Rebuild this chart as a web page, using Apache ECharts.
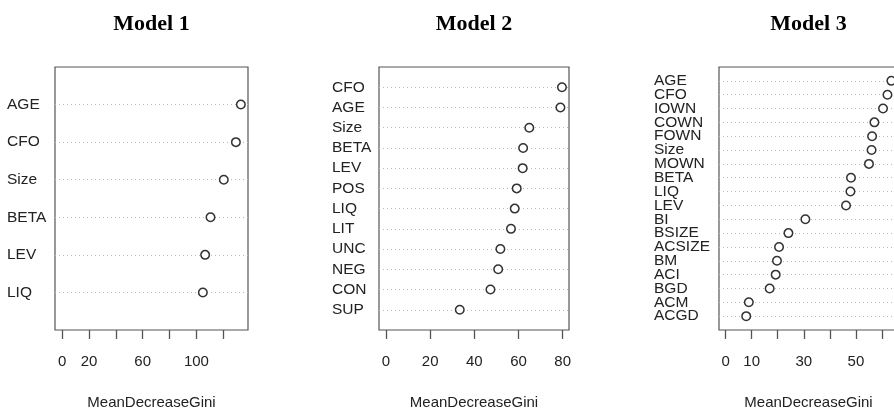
<!DOCTYPE html>
<html>
<head>
<meta charset="utf-8">
<title>Variable importance – MeanDecreaseGini</title>
<script src="https://cdn.jsdelivr.net/npm/echarts@6/dist/echarts.min.js"></script>
<style>
  html, body { margin: 0; padding: 0; background: #fff; }
  #chart { width: 894px; height: 412px; }
</style>
</head>
<body>
<div id="chart"></div>
<script>
// Variables ordered from most to least important (top row first)
const model1Vars = ['AGE', 'CFO', 'Size', 'BETA', 'LEV', 'LIQ'];
const model1Gini = [133.1, 129.4, 120.4, 110.5, 106.5, 104.8];
const model1Ticks = [0, 20, 40, 60, 80, 100, 120];
const model1TickLabels = [0, 20, 60, 100];

const model2Vars = ['CFO', 'AGE', 'Size', 'BETA', 'LEV', 'POS', 'LIQ', 'LIT', 'UNC', 'NEG', 'CON', 'SUP'];
const model2Gini = [79.7, 79.0, 64.9, 62.1, 61.9, 59.2, 58.3, 56.6, 51.8, 50.8, 47.3, 33.4];
const model2Ticks = [0, 20, 40, 60, 80];
const model2TickLabels = [0, 20, 40, 60, 80];

const model3Vars = ['AGE', 'CFO', 'IOWN', 'COWN', 'FOWN', 'Size', 'MOWN', 'BETA', 'LIQ', 'LEV',
                    'BI', 'BSIZE', 'ACSIZE', 'BM', 'ACI', 'BGD', 'ACM', 'ACGD'];
const model3Gini = [63.6, 62.1, 60.4, 57.1, 56.2, 56.0, 55.0, 48.1, 47.9, 46.2,
                    30.6, 24.1, 20.5, 19.7, 19.2, 16.9, 8.9, 7.9];
const model3Ticks = [0, 10, 20, 30, 40, 50, 60];
const model3TickLabels = [0, 10, 30, 50];

const titles = ['Model 1', 'Model 2', 'Model 3'];
const axisTitle = 'MeanDecreaseGini';

// Panel layout (plot boxes, in px)
const panels = [
  { vars: model1Vars, vals: model1Gini, ticks: model1Ticks, labels: model1TickLabels,
    left: 55, width: 193, labelMargin: 48 },
  { vars: model2Vars, vals: model2Gini, ticks: model2Ticks, labels: model2TickLabels,
    left: 379, width: 190, labelMargin: 47 },
  { vars: model3Vars, vals: model3Gini, ticks: model3Ticks, labels: model3TickLabels,
    left: 719, width: 179, labelMargin: 65 }
];
const boxTop = 67, boxHeight = 263;
const ink = '#222';
const frame = '#555';
const sans = '"Liberation Sans", Arial, sans-serif';

const grid = [], xAxis = [], yAxis = [], series = [], title = [];

panels.forEach((p, k) => {
  const n = p.vars.length;
  const vmax = Math.max(...p.vals);
  // x range: 0 .. max, widened by 4% on each side
  const pad = 0.04 * vmax;
  grid.push({
    left: p.left, top: boxTop, width: p.width, height: boxHeight,
    outerBoundsMode: 'none', containLabel: false,
    show: true, borderColor: frame, borderWidth: 1.2, backgroundColor: 'transparent'
  });
  xAxis.push({
    type: 'value', gridIndex: k,
    min: -pad, max: vmax + pad,
    axisLine: { show: false },
    splitLine: { show: false },
    axisTick: {
      show: true, length: 9, inside: false,
      customValues: p.ticks,
      lineStyle: { color: frame, width: 1.3 }
    },
    axisLabel: {
      customValues: p.labels,
      margin: 24, fontSize: 15, color: ink, fontFamily: sans,
      formatter: v => String(v)
    },
    name: axisTitle, nameLocation: 'middle', nameGap: 65,
    nameTextStyle: { fontSize: 15, color: ink, fontFamily: sans }
  });
  yAxis.push({
    type: 'value', gridIndex: k,
    min: 0, max: n + 1, interval: 1,
    axisLine: { show: false },
    axisTick: { show: false },
    splitLine: { show: false },
    axisLabel: {
      align: 'left', margin: p.labelMargin,
      fontSize: 15.5, color: ink, fontFamily: sans,
      formatter: v => (v >= 1 && v <= n) ? p.vars[n - v] : ''
    }
  });
  series.push({
    type: 'scatter', xAxisIndex: k, yAxisIndex: k,
    data: p.vals.map((v, i) => [v, n - i]),
    symbol: 'circle', symbolSize: 8.5,
    itemStyle: { color: '#fff', borderColor: '#333', borderWidth: 1.5, opacity: 1 },
    z: 5,
    markLine: {
      silent: true, symbol: ['none', 'none'], label: { show: false },
      lineStyle: { color: '#b8b8b8', type: [1, 3], width: 1 },
      animation: false,
      data: p.vars.map((_, i) => ({ yAxis: n - i }))
    }
  });
  title.push({
    text: titles[k],
    left: p.left + p.width / 2, top: 13, textAlign: 'center', padding: 0,
    textStyle: { fontSize: 22, fontWeight: 'bold', color: '#000',
                 fontFamily: '"Liberation Serif", "Times New Roman", serif' }
  });
});

const chart = echarts.init(document.getElementById('chart'));
chart.setOption({
  animation: false,
  backgroundColor: '#fff',
  title, grid, xAxis, yAxis, series
});
</script>
</body>
</html>
